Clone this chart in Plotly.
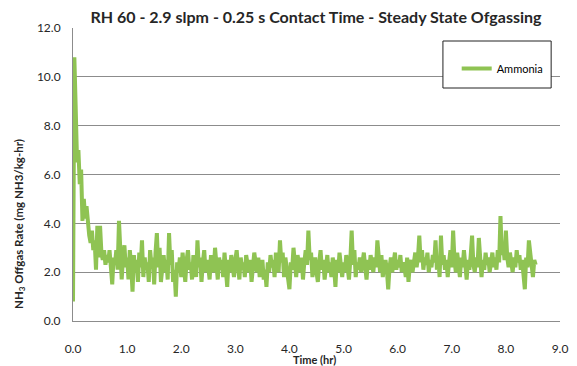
import plotly.graph_objects as go

SAMPLE_INTERVAL_HR = 0.025

hour0 = [0.8, 10.8, 8.7, 6.5, 7.0, 5.6, 6.2, 4.1, 5.0, 4.2, 4.7, 3.9, 3.5, 3.2, 3.7, 2.9, 3.3, 2.1, 3.9, 2.6,
         3.9, 2.8, 2.5, 2.9, 2.3, 2.7, 2.4, 2.9, 2.2, 1.5, 2.6, 2.3, 2.9, 2.1, 4.1, 2.8, 1.7, 2.6, 3.1, 2.2]
hour1 = [2.6, 1.7, 2.9, 2.3, 1.2, 2.7, 2.0, 2.5, 1.6, 2.8, 2.2, 3.3, 1.8, 2.6, 2.1, 2.4, 1.6, 2.9, 2.3, 2.6,
         1.5, 2.8, 3.6, 2.2, 3.0, 1.6, 2.4, 2.7, 2.0, 2.5, 1.7, 3.6, 2.3, 2.9, 1.6, 2.1, 1.0, 2.4, 2.0, 2.6]
hour2 = [1.8, 2.8, 2.2, 1.6, 2.5, 2.9, 2.1, 2.4, 1.7, 2.7, 2.3, 1.8, 3.3, 2.2, 2.6, 1.6, 2.4, 2.9, 2.0, 2.5,
         2.2, 1.7, 2.7, 2.4, 2.0, 3.0, 2.3, 1.7, 2.6, 2.1, 2.5, 1.8, 2.8, 2.2, 1.4, 2.5, 2.0, 2.7, 2.3, 1.8]
hour3 = [2.5, 2.9, 2.2, 1.7, 2.6, 2.1, 2.4, 1.8, 2.7, 2.3, 2.0, 2.5, 1.6, 2.2, 2.8, 2.4, 2.0, 2.6, 1.8, 2.3,
         2.5, 1.7, 2.1, 1.4, 2.4, 2.0, 2.7, 2.2, 2.5, 1.8, 2.8, 2.3, 2.0, 3.3, 2.4, 2.8, 1.8, 2.6, 2.2, 1.6]
hour4 = [1.3, 2.4, 2.1, 3.0, 2.5, 1.8, 2.7, 2.2, 2.0, 2.6, 1.7, 2.4, 2.9, 2.3, 3.7, 2.5, 2.8, 1.8, 2.2, 2.6,
         2.0, 1.6, 2.4, 2.9, 2.1, 2.5, 1.7, 2.3, 2.7, 2.0, 2.4, 1.8, 2.6, 2.2, 1.4, 2.5, 2.0, 2.8, 2.3, 1.8]
hour5 = [2.4, 2.0, 2.7, 2.2, 1.7, 2.5, 3.7, 2.3, 2.9, 1.8, 2.4, 2.1, 2.6, 2.0, 2.3, 2.8, 2.2, 1.7, 2.5, 2.1,
         2.7, 2.3, 2.0, 2.6, 2.2, 3.3, 2.4, 2.0, 2.7, 1.8, 2.3, 2.5, 2.1, 1.3, 2.2, 2.6, 2.0, 2.4, 2.8, 2.1]
hour6 = [2.5, 2.2, 2.7, 2.0, 2.4, 2.2, 1.8, 2.6, 1.6, 2.3, 2.5, 2.0, 2.4, 2.8, 2.2, 2.6, 3.5, 2.4, 2.9, 2.1,
         2.6, 2.3, 2.8, 2.0, 2.5, 2.2, 2.7, 2.4, 3.3, 2.1, 2.6, 1.8, 3.5, 2.3, 2.7, 2.1, 2.5, 1.8, 2.4, 2.9]
hour7 = [2.2, 3.7, 2.5, 2.0, 2.8, 2.3, 1.8, 2.6, 2.2, 2.9, 2.4, 1.7, 2.5, 2.1, 2.7, 3.5, 2.3, 2.0, 2.6, 2.2,
         3.4, 2.4, 1.8, 2.5, 2.1, 2.8, 2.3, 2.6, 2.0, 2.4, 2.8, 2.2, 2.6, 2.1, 2.9, 2.4, 4.3, 2.7, 3.1, 2.5]
hour8 = [3.7, 2.6, 2.2, 2.8, 2.3, 2.0, 2.6, 2.2, 2.9, 2.4, 2.7, 2.1, 2.5, 1.8, 1.3, 2.6, 2.2, 3.3, 2.8, 2.4,
         1.8, 2.5, 2.3]

ammonia = hour0 + hour1 + hour2 + hour3 + hour4 + hour5 + hour6 + hour7 + hour8
time_hr = [round(i * SAMPLE_INTERVAL_HR, 4) for i in range(len(ammonia))]

x_ticks = [0, 1, 2, 3, 4, 5, 6, 7, 8, 9]
y_ticks = [0, 2, 4, 6, 8, 10, 12]

FONT = "Lato"
GRID = "#8c8c8c"
TXT = "#262626"

L, R, T, B = 73, 568, 28, 321
PW, PH = R - L, B - T

def px(xp):
    return (xp - L) / PW

def py(yp):
    return (B - yp) / PH

fig = go.Figure()
fig.add_trace(go.Scatter(x=time_hr, y=ammonia, mode="lines", name="Ammonia",
                         line=dict(color="#8fc353", width=4)))

fig.update_layout(
    width=577, height=366,
    margin=dict(l=L, r=577 - R, t=T, b=366 - B),
    paper_bgcolor="white", plot_bgcolor="white",
    font=dict(family=FONT, color=TXT, size=12),
    title=dict(text="<b>RH 60 - 2.9 slpm - 0.25 s Contact Time - Steady State Ofgassing</b>",
               x=316 / 577, xanchor="center", y=1 - 17 / 366, yanchor="middle",
               font=dict(size=16, family=FONT, color=TXT)),
    showlegend=True,
    legend=dict(x=px(463), y=py(54), xanchor="left", yanchor="top",
                bgcolor="rgba(0,0,0,0)", borderwidth=0,
                font=dict(size=11, family=FONT, color="#000")),
    xaxis=dict(range=[0, 9], tickvals=x_ticks, ticktext=[f"{v:.1f}" for v in x_ticks],
               showgrid=False, zeroline=False, showline=True, linecolor=GRID, linewidth=1,
               ticks="outside", ticklen=17, tickcolor="rgba(0,0,0,0)",
               tickfont=dict(size=12, family=FONT, color=TXT)),
    yaxis=dict(range=[0, 12], tickvals=y_ticks, ticktext=[f"{v:.1f}" for v in y_ticks],
               showgrid=True, gridcolor=GRID, gridwidth=1, zeroline=False,
               showline=True, linecolor=GRID, linewidth=1,
               ticks="outside", ticklen=9, tickcolor="rgba(0,0,0,0)",
               tickfont=dict(size=12, family=FONT, color=TXT)),
    shapes=[dict(type="rect", xref="paper", yref="paper",
                 x0=px(449), x1=px(559), y0=py(88), y1=py(41),
                 fillcolor="white", line=dict(color="#222", width=1), layer="above")],
    annotations=[
        dict(text="<b>Time (hr)</b>", xref="paper", yref="paper",
             x=px(318), y=py(359), xanchor="center", yanchor="middle",
             showarrow=False, font=dict(size=11, family=FONT, color=TXT)),
        dict(text="<b>NH<sub>3</sub> Offgas Rate (mg NH3/kg-hr)</b>", xref="paper", yref="paper",
             x=px(18), y=py(224), xanchor="center", yanchor="middle",
             textangle=-90, showarrow=False, font=dict(size=11.5, family=FONT, color=TXT)),
    ],
)

fig.write_html("out.html")
